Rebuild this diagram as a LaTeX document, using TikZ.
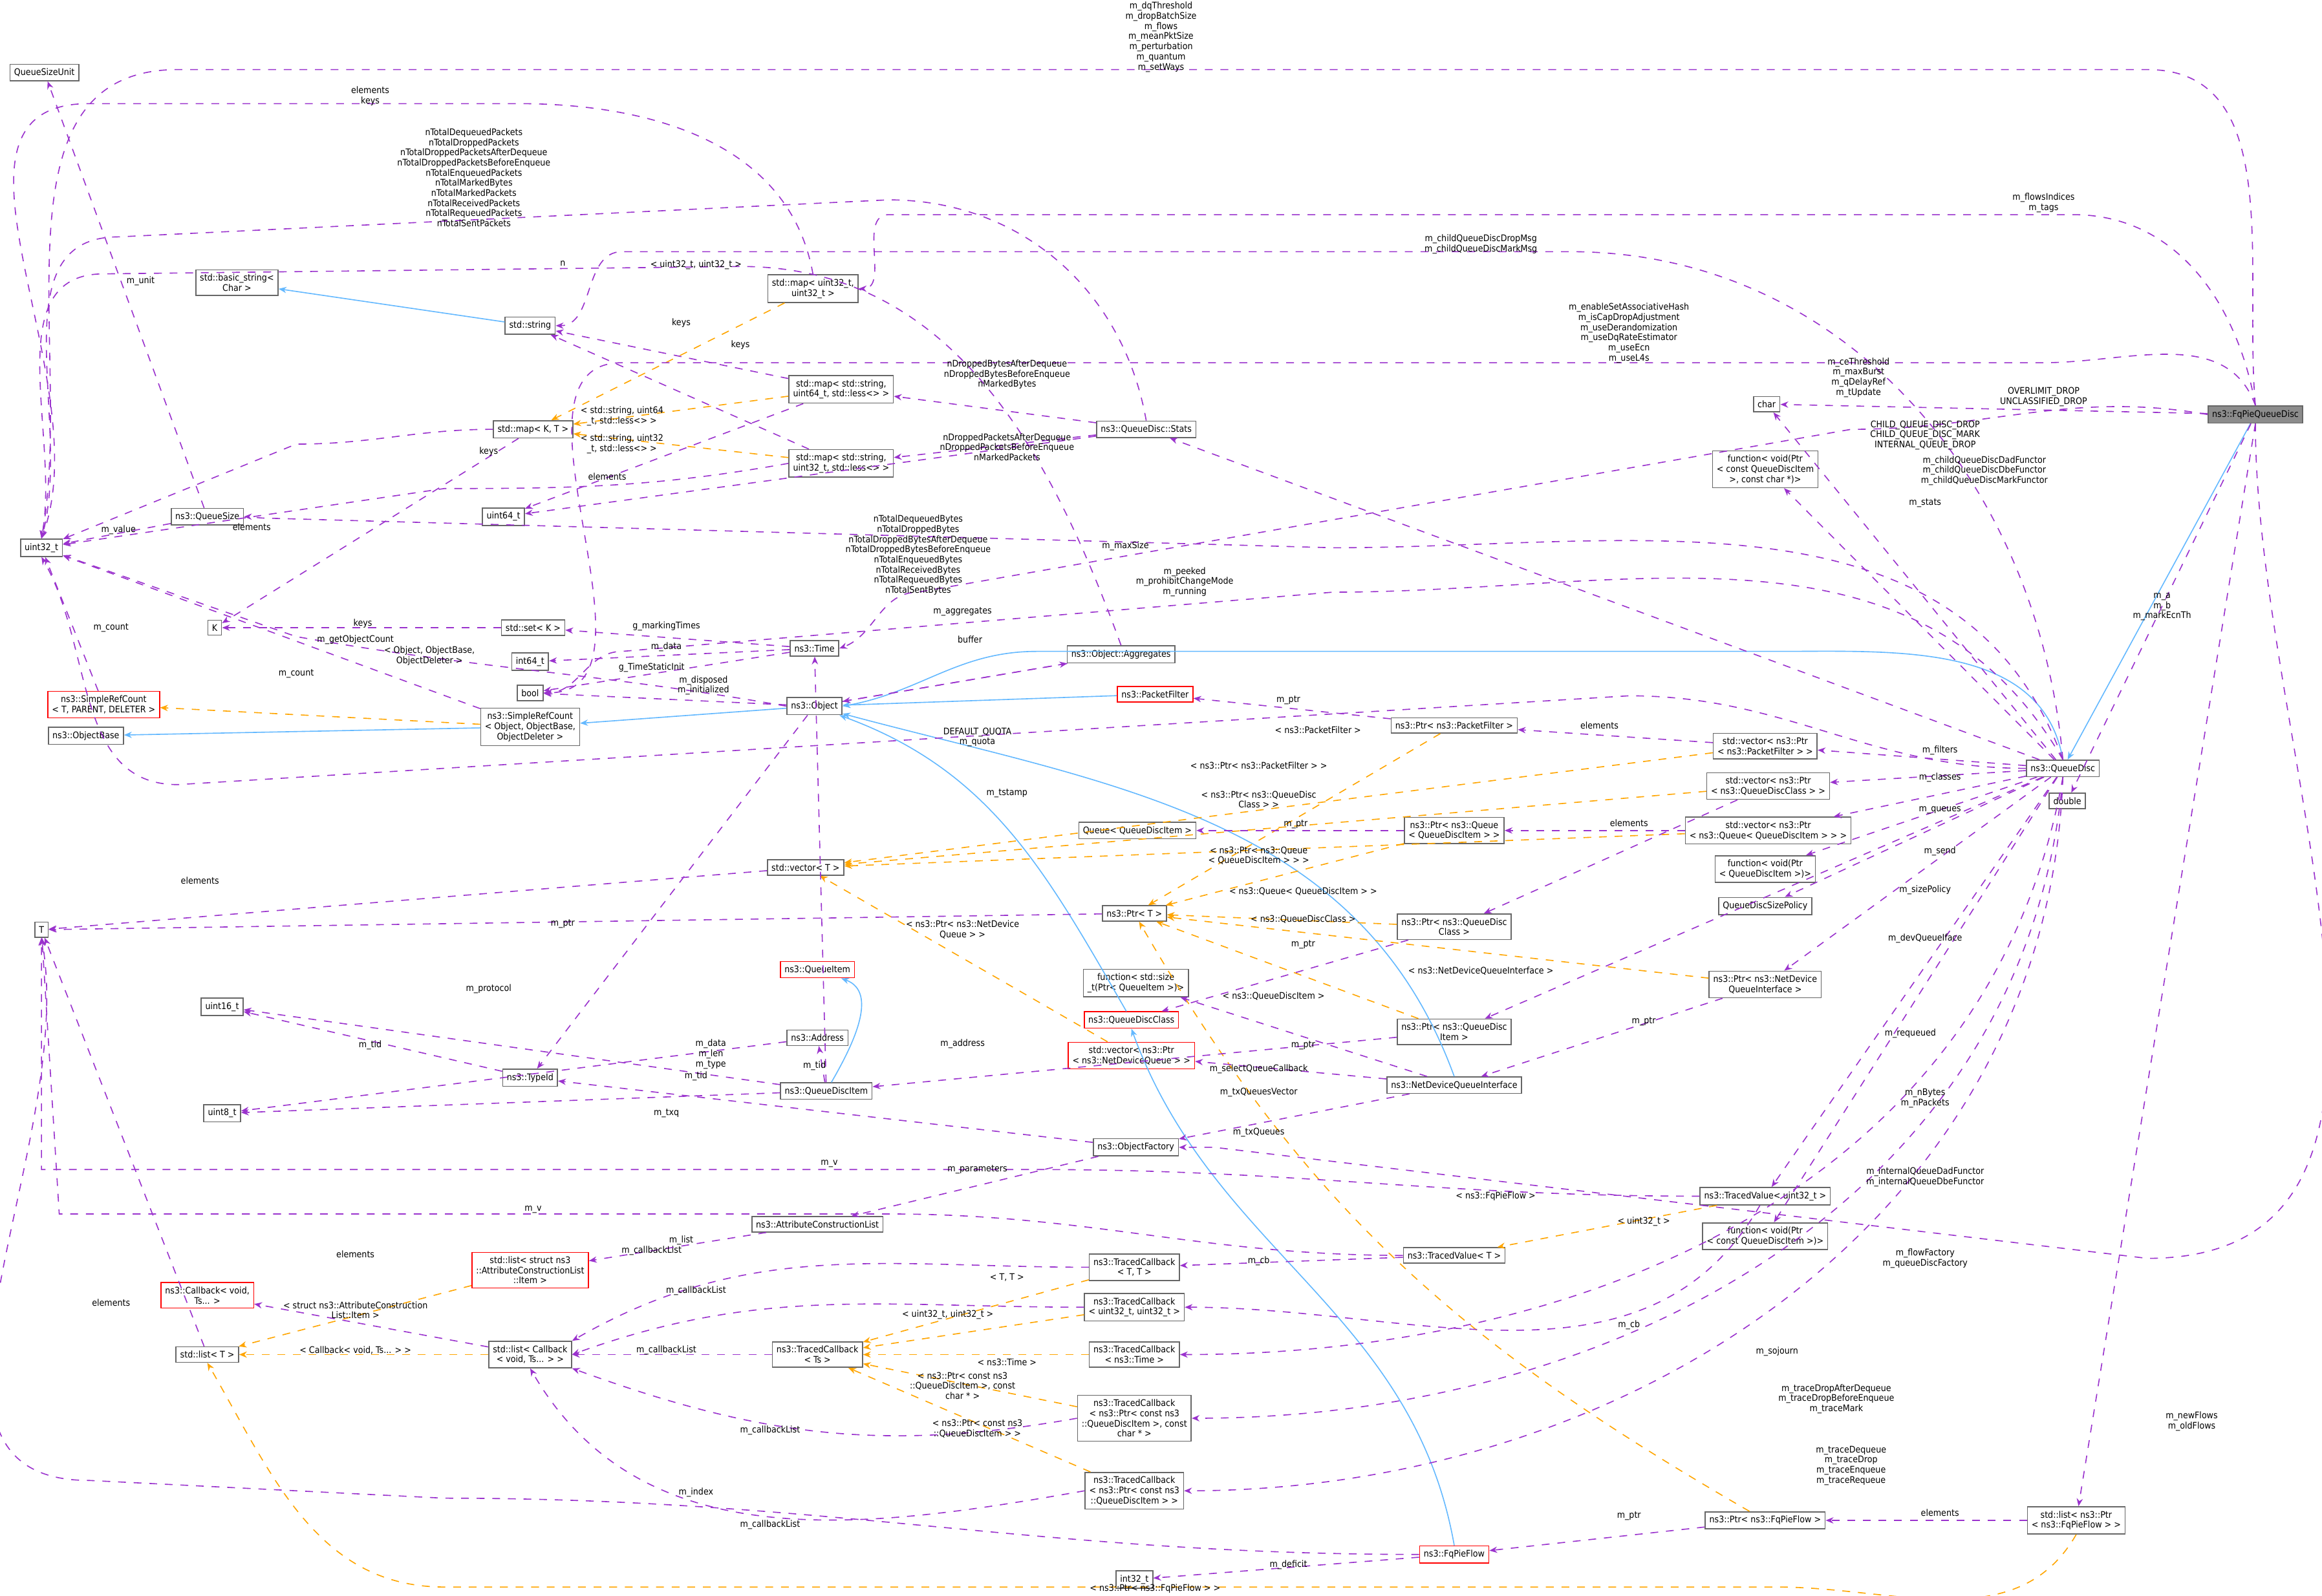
\documentclass[tikz,border=0pt]{standalone}
\usepackage{fontspec}
\setmainfont{DejaVu Sans Condensed}
\usetikzlibrary{arrows.meta}
\definecolor{member}{HTML}{9A32CD}
\definecolor{templ}{HTML}{FFA500}
\definecolor{inherit}{HTML}{63B8FF}
\begin{document}
\begin{tikzpicture}[x=0.02cm,y=-0.02cm,
  cls/.style={draw=black!60,fill=white,inner sep=1.6pt,font=\fontsize{3.5}{3.9}\selectfont,align=center},
  redcls/.style={cls,draw=red},
  main/.style={cls,fill=black!45},
  lbl/.style={font=\fontsize{3.5}{3.9}\selectfont,align=center,inner sep=0.5pt},
  mem/.style={member,dashed,-{Stealth[length=3pt,width=2.4pt]}},
  tpl/.style={templ,dashed,-{Stealth[length=3pt,width=2.4pt]}},
  inh/.style={inherit,-{Stealth[length=3pt,width=2.4pt]}}]
\useasboundingbox (0,0) rectangle (1568,1078);

% Classes, left column
\node[cls] (qsunit) at (30,49) {QueueSizeUnit};
\node[cls] (uint32) at (28,370) {uint32\_t};
\node[cls] (ttype) at (28,628) {T};
\node[cls] (kkey) at (145,424) {K};
\node[cls] (qsize) at (140,349) {ns3::QueueSize};
\node[redcls] (srcT) at (70,476) {ns3::SimpleRefCount\\< T, PARENT, DELETER >};
\node[cls] (objbase) at (58,497) {ns3::ObjectBase};
\node[cls] (uint16) at (150,680) {uint16\_t};
\node[cls] (uint8) at (150,752) {uint8\_t};
\node[redcls] (callback) at (140,875) {ns3::Callback< void,\\ Ts... >};
\node[cls] (listT) at (140,915) {std::list< T >};

% Second column
\node[cls] (bstring) at (160,191) {std::basic\_string<\\ Char >};
\node[cls] (string) at (358,220) {std::string};
\node[cls] (mapKT) at (360,290) {std::map< K, T >};
\node[cls] (uint64) at (340,349) {uint64\_t};
\node[cls] (setK) at (360,424) {std::set< K >};
\node[cls] (int64) at (358,447) {int64\_t};
\node[cls] (bool) at (358,468) {bool};
\node[cls] (srcObj) at (358,491) {ns3::SimpleRefCount\\< Object, ObjectBase,\\ ObjectDeleter >};
\node[cls] (typeid) at (358,728) {ns3::TypeId};
\node[redcls] (listItem) at (358,858) {std::list< struct ns3\\::AttributeConstructionList\\::Item >};
\node[cls] (listCb) at (358,915) {std::list< Callback\\< void, Ts... > >};

% Third column
\node[cls] (mapU32) at (549,195) {std::map< uint32\_t,\\ uint32\_t >};
\node[cls] (mapStr64) at (568,263) {std::map< std::string,\\ uint64\_t, std::less<> >};
\node[cls] (mapStr32) at (568,313) {std::map< std::string,\\ uint32\_t, std::less<> >};
\node[cls] (time) at (550,438) {ns3::Time};
\node[cls] (object) at (550,477) {ns3::Object};
\node[cls] (vecT) at (544,586) {std::vector< T >};
\node[redcls] (qitem) at (552,655) {ns3::QueueItem};
\node[cls] (address) at (552,701) {ns3::Address};
\node[cls] (qditem) at (558,737) {ns3::QueueDiscItem};
\node[cls] (acl) at (552,827) {ns3::AttributeConstructionList};
\node[cls] (tcTs) at (552,915) {ns3::TracedCallback\\< Ts >};

% Fourth column
\node[cls] (stats) at (774,290) {ns3::QueueDisc::Stats};
\node[cls] (aggr) at (757,442) {ns3::Object::Aggregates};
\node[redcls] (pfilter) at (780,469) {ns3::PacketFilter};
\node[cls] (queueQdi) at (768,561) {Queue< QueueDiscItem >};
\node[cls] (ptrT) at (766,617) {ns3::Ptr< T >};
\node[cls] (fnSize) at (767,664) {function< std::size\\\_t(Ptr< QueueItem >)>};
\node[redcls] (qdclass) at (764,689) {ns3::QueueDiscClass};
\node[redcls] (vecNdq) at (764,713) {std::vector< ns3::Ptr\\< ns3::NetDeviceQueue > >};
\node[cls] (objfac) at (767,775) {ns3::ObjectFactory};
\node[cls] (tcTT) at (766,856) {ns3::TracedCallback\\< T, T >};
\node[cls] (tcU32) at (766,883) {ns3::TracedCallback\\< uint32\_t, uint32\_t >};
\node[cls] (tcTime) at (766,915) {ns3::TracedCallback\\< ns3::Time >};
\node[cls] (tcChar) at (766,958) {ns3::TracedCallback\\< ns3::Ptr< const ns3\\::QueueDiscItem >, const\\ char * >};
\node[cls] (tcQdi) at (766,1007) {ns3::TracedCallback\\< ns3::Ptr< const ns3\\::QueueDiscItem > >};
\node[cls] (int32) at (766,1067) {int32\_t};

% Fifth column
\node[cls] (ptrPf) at (982,490) {ns3::Ptr< ns3::PacketFilter >};
\node[cls] (ptrQueue) at (982,561) {ns3::Ptr< ns3::Queue\\< QueueDiscItem > >};
\node[cls] (ptrQdc) at (982,626) {ns3::Ptr< ns3::QueueDisc\\Class >};
\node[cls] (ptrQdi) at (982,697) {ns3::Ptr< ns3::QueueDisc\\Item >};
\node[cls] (ndqi) at (982,733) {ns3::NetDeviceQueueInterface};
\node[cls] (tvT) at (982,848) {ns3::TracedValue< T >};
\node[redcls] (flow) at (982,1050) {ns3::FqPieFlow};

% Sixth column
\node[cls] (char) at (1193,273) {char};
\node[cls] (fnChar) at (1192,317) {function< void(Ptr\\< const QueueDiscItem\\ >, const char *)>};
\node[cls] (vecPf) at (1192,504) {std::vector< ns3::Ptr\\< ns3::PacketFilter > >};
\node[cls] (vecQdc) at (1194,531) {std::vector< ns3::Ptr\\< ns3::QueueDiscClass > >};
\node[cls] (vecQueue) at (1194,561) {std::vector< ns3::Ptr\\< ns3::Queue< QueueDiscItem > > >};
\node[cls] (fnQdi) at (1192,587) {function< void(Ptr\\< QueueDiscItem >)>};
\node[cls] (policy) at (1192,612) {QueueDiscSizePolicy};
\node[cls] (ptrNdqi) at (1192,665) {ns3::Ptr< ns3::NetDevice\\QueueInterface >};
\node[cls] (tvU32) at (1192,808) {ns3::TracedValue< uint32\_t >};
\node[cls] (fnCQdi) at (1192,835) {function< void(Ptr\\< const QueueDiscItem >)>};
\node[cls] (ptrFlow) at (1192,1027) {ns3::Ptr< ns3::FqPieFlow >};

% Right column
\node[cls] (qdisc) at (1393,519) {ns3::QueueDisc};
\node[cls] (double) at (1396,541) {double};
\node[cls] (listFlow) at (1402,1027) {std::list< ns3::Ptr\\< ns3::FqPieFlow > >};
\node[main] (fq) at (1523,280) {ns3::FqPieQueueDisc};

% Inheritance
\draw[inh] (fq) -- (qdisc);
\draw[inh] (qdisc.north) to[out=100,in=0] (1200,440) -- (700,440) to[out=180,in=10] (object.east);
\draw[inh] (pfilter) -- (object);
\draw[inh] (qdclass) to[out=120,in=-20] (object);
\draw[inh] (ndqi.north) to[out=110,in=-15] (object);
\draw[inh] (flow.north) to[out=100,in=-70] (qdclass.south);
\draw[inh] (qditem) to[out=60,in=-20] (qitem);
\draw[inh] (object) -- (srcObj);
\draw[inh] (srcObj) -- (objbase);
\draw[inh] (string) -- (bstring);

% Template instances
\draw[tpl] (srcObj) -- (srcT);
\draw[tpl] (mapU32) -- (mapKT);
\draw[tpl] (mapStr64) -- (mapKT);
\draw[tpl] (mapStr32) -- (mapKT);
\draw[tpl] (ptrPf) -- (ptrT);
\draw[tpl] (ptrQueue) -- (ptrT);
\draw[tpl] (ptrQdc) -- (ptrT);
\draw[tpl] (ptrQdi) -- (ptrT);
\draw[tpl] (ptrNdqi) -- (ptrT);
\draw[tpl] (ptrFlow) to[out=150,in=-60] (ptrT);
\draw[tpl] (vecPf) -- (vecT);
\draw[tpl] (vecQdc) -- (vecT);
\draw[tpl] (vecQueue) -- (vecT);
\draw[tpl] (vecNdq) -- (vecT);
\draw[tpl] (tvU32) -- (tvT);
\draw[tpl] (tcTT) -- (tcTs);
\draw[tpl] (tcU32) -- (tcTs);
\draw[tpl] (tcTime) -- (tcTs);
\draw[tpl] (tcChar) -- (tcTs);
\draw[tpl] (tcQdi) -- (tcTs);
\draw[tpl] (listItem) -- (listT);
\draw[tpl] (listCb) -- (listT);
\draw[tpl] (listFlow.south) to[out=-120,in=0] (1200,1072) -- (300,1072) to[out=180,in=-60] (listT.south);

% Members of FqPieQueueDisc
\draw[mem] (fq.north) to[out=95,in=0] (1450,47) -- (120,47) to[out=180,in=80] (uint32.north);
\draw[mem] (fq.north) to[out=100,in=0] (1400,145) -- (600,145) to[out=180,in=0] (mapU32.east);
\draw[mem] (fq.north) to[out=110,in=0] (1380,245) -- (420,245) to[out=180,in=0] (bool.east);
\draw[mem] (fq.west) to[out=170,in=0] (1250,290) -- (620,400) to[out=180,in=20] (time.east);
\draw[mem] (fq) -- (char);
\draw[mem] (fq) -- (double);
\draw[mem] (fq.south) to[out=-90,in=0] (1450,850) -- (820,775) to[out=180,in=0] (objfac.east);
\draw[mem] (fq.south) -- (listFlow);

% Members of QueueDisc
\draw[mem] (qdisc.north) to[out=95,in=0] (1060,170) -- (420,170) to[out=180,in=0] (string.east);
\draw[mem] (qdisc) -- (char);
\draw[mem] (qdisc) -- (fnChar);
\draw[mem] (qdisc) -- (stats);
\draw[mem] (qdisc.north) to[out=110,in=0] (900,370) -- (180,350) to[out=180,in=0] (qsize.east);
\draw[mem] (qdisc.north) to[out=120,in=0] (900,400) -- (420,440) to[out=180,in=0] (bool.east);
\draw[mem] (qdisc) -- (vecPf);
\draw[mem] (qdisc) -- (vecQdc);
\draw[mem] (qdisc) -- (vecQueue);
\draw[mem] (qdisc) -- (fnQdi);
\draw[mem] (qdisc) -- (policy);
\draw[mem] (qdisc) -- (ptrNdqi);
\draw[mem] (qdisc) -- (ptrQdi);
\draw[mem] (qdisc) -- (tvU32);
\draw[mem] (qdisc) -- (fnCQdi);
\draw[mem] (qdisc.south) to[out=-100,in=0] (tcTime.east);
\draw[mem] (qdisc.south) to[out=-95,in=0] (tcChar.east);
\draw[mem] (qdisc.south) to[out=-92,in=0] (tcQdi.east);
\draw[mem] (qdisc.west) to[out=180,in=0] (1100,470) -- (120,530) to[out=180,in=-60] (uint32.south);

% Other members
\draw[mem] (mapU32.north) to[out=100,in=0] (350,70) -- (60,70) to[out=180,in=70] (uint32.north);
\draw[mem] (stats.north) to[out=100,in=0] (600,135) -- (80,160) to[out=180,in=75] (uint32.north);
\draw[mem] (stats) -- (mapStr64);
\draw[mem] (stats) -- (mapStr32);
\draw[mem] (stats) -- (uint64);
\draw[mem] (aggr.north) to[out=110,in=0] (500,180) -- (70,185) to[out=180,in=80] (uint32.north);
\draw[mem] (aggr) -- (object);
\draw[mem] (object) -- (aggr);
\draw[mem] (object) -- (bool);
\draw[mem] (object.west) to[out=170,in=-10] (200,430) -- (uint32);
\draw[mem] (object) -- (typeid);
\draw[mem] (time) -- (setK);
\draw[mem] (time) -- (int64);
\draw[mem] (time) -- (bool);
\draw[mem] (setK) -- (kkey);
\draw[mem] (mapKT) -- (kkey);
\draw[mem] (mapKT.west) to[out=180,in=0] (200,300) -- (uint32);
\draw[mem] (mapStr64) -- (string);
\draw[mem] (mapStr32) -- (string);
\draw[mem] (mapStr64) -- (uint64);
\draw[mem] (mapStr32.west) to[out=190,in=0] (300,330) -- (uint32);
\draw[mem] (qsize) -- (uint32);
\draw[mem] (qsize) -- (qsunit);
\draw[mem] (srcT) -- (uint32);
\draw[mem] (srcObj) -- (uint32);
\draw[mem] (vecT) -- (ttype);
\draw[mem] (ptrT) -- (ttype);
\draw[mem] (listT) -- (ttype);
\draw[mem] (ptrPf) -- (pfilter);
\draw[mem] (vecPf) -- (ptrPf);
\draw[mem] (vecQdc) -- (ptrQdc);
\draw[mem] (vecQueue) -- (ptrQueue);
\draw[mem] (ptrQueue) -- (queueQdi);
\draw[mem] (ptrQdc) -- (qdclass);
\draw[mem] (ptrQdi) -- (qditem);
\draw[mem] (ptrNdqi) -- (ndqi);
\draw[mem] (ndqi) -- (fnSize);
\draw[mem] (ndqi) -- (vecNdq);
\draw[mem] (ndqi) -- (objfac);
\draw[mem] (qditem) -- (time);
\draw[mem] (qditem) -- (address);
\draw[mem] (qditem) -- (uint16);
\draw[mem] (qditem) -- (uint8);
\draw[mem] (address) -- (uint8);
\draw[mem] (typeid) -- (uint16);
\draw[mem] (objfac) -- (typeid);
\draw[mem] (objfac) -- (acl);
\draw[mem] (acl) -- (listItem);
\draw[mem] (listCb) -- (callback);
\draw[mem] (tvU32.west) to[out=180,in=0] (700,790) -- (28,790) -- (ttype);
\draw[mem] (tvT.west) to[out=180,in=0] (600,820) -- (40,820) -- (ttype);
\draw[mem] (tvT) -- (tcTT);
\draw[mem] (tvU32) to[out=-120,in=0] (tcU32.east);
\draw[mem] (tcTs) -- (listCb);
\draw[mem] (tcTT.west) to[out=180,in=30] (listCb.north east);
\draw[mem] (tcU32.west) to[out=180,in=20] (listCb.east);
\draw[mem] (tcChar.west) to[out=190,in=-20] (listCb.south east);
\draw[mem] (tcQdi.west) to[out=190,in=-60] (listCb.south);
\draw[mem] (listFlow) -- (ptrFlow);
\draw[mem] (ptrFlow) -- (flow);
\draw[mem] (flow) -- (int32);
\draw[mem] (flow.west) to[out=180,in=0] (300,1012) -- (60,1000) to[out=180,in=-80] (ttype.south);

% Edge labels
\node[lbl] at (784,25) {m\_dqThreshold\\m\_dropBatchSize\\m\_flows\\m\_meanPktSize\\m\_perturbation\\m\_quantum\\m\_setWays};
\node[lbl] at (1380,137) {m\_flowsIndices\\m\_tags};
\node[lbl] at (250,65) {elements\\keys};
\node[lbl] at (320,120) {nTotalDequeuedPackets\\nTotalDroppedPackets\\nTotalDroppedPacketsAfterDequeue\\nTotalDroppedPacketsBeforeEnqueue\\nTotalEnqueuedPackets\\nTotalMarkedBytes\\nTotalMarkedPackets\\nTotalReceivedPackets\\nTotalRequeuedPackets\\nTotalSentPackets};
\node[lbl] at (1000,165) {m\_childQueueDiscDropMsg\\m\_childQueueDiscMarkMsg};
\node[lbl] at (1100,225) {m\_enableSetAssociativeHash\\m\_isCapDropAdjustment\\m\_useDerandomization\\m\_useDqRateEstimator\\m\_useEcn\\m\_useL4s};
\node[lbl] at (1255,255) {m\_ceThreshold\\m\_maxBurst\\m\_qDelayRef\\m\_tUpdate};
\node[lbl] at (1380,268) {OVERLIMIT\_DROP\\UNCLASSIFIED\_DROP};
\node[lbl] at (1300,294) {CHILD\_QUEUE\_DISC\_DROP\\CHILD\_QUEUE\_DISC\_MARK\\INTERNAL\_QUEUE\_DROP};
\node[lbl] at (1340,318) {m\_childQueueDiscDadFunctor\\m\_childQueueDiscDbeFunctor\\m\_childQueueDiscMarkFunctor};
\node[lbl] at (1300,340) {m\_stats};
\node[lbl] at (760,369) {m\_maxSize};
\node[lbl] at (800,393) {m\_peeked\\m\_prohibitChangeMode\\m\_running};
\node[lbl] at (1460,410) {m\_a\\m\_b\\m\_markEcnTh};
\node[lbl] at (1310,507) {m\_filters};
\node[lbl] at (1310,525) {m\_classes};
\node[lbl] at (1310,547) {m\_queues};
\node[lbl] at (1310,575) {m\_send};
\node[lbl] at (1300,601) {m\_sizePolicy};
\node[lbl] at (1300,634) {m\_devQueueIface};
\node[lbl] at (1290,698) {m\_requeued};
\node[lbl] at (1300,742) {m\_nBytes\\m\_nPackets};
\node[lbl] at (1300,795) {m\_internalQueueDadFunctor\\m\_internalQueueDbeFunctor};
\node[lbl] at (1300,850) {m\_flowFactory\\m\_queueDiscFactory};
\node[lbl] at (1200,913) {m\_sojourn};
\node[lbl] at (1240,945) {m\_traceDropAfterDequeue\\m\_traceDropBeforeEnqueue\\m\_traceMark};
\node[lbl] at (1250,990) {m\_traceDequeue\\m\_traceDrop\\m\_traceEnqueue\\m\_traceRequeue};
\node[lbl] at (1480,960) {m\_newFlows\\m\_oldFlows};
\node[lbl] at (1310,1022) {elements};
\node[lbl] at (1100,1024) {m\_ptr};
\node[lbl] at (870,1057) {m\_deficit};
\node[lbl] at (470,1008) {m\_index};
\node[lbl] at (780,1073) {< ns3::Ptr< ns3::FqPieFlow > >};
\node[lbl] at (1110,825) {< uint32\_t >};
\node[lbl] at (1100,895) {m\_cb};
\node[lbl] at (850,852) {m\_cb};
\node[lbl] at (560,786) {m\_v};
\node[lbl] at (360,817) {m\_v};
\node[lbl] at (680,863) {< T, T >};
\node[lbl] at (640,888) {< uint32\_t, uint32\_t >};
\node[lbl] at (680,920) {< ns3::Time >};
\node[lbl] at (650,936) {< ns3::Ptr< const ns3\\::QueueDiscItem >, const\\ char * >};
\node[lbl] at (660,965) {< ns3::Ptr< const ns3\\::QueueDiscItem > >};
\node[lbl] at (450,912) {m\_callbackList};
\node[lbl] at (440,845) {m\_callbackList};
\node[lbl] at (470,872) {m\_callbackList};
\node[lbl] at (520,966) {m\_callbackList};
\node[lbl] at (520,1030) {m\_callbackList};
\node[lbl] at (240,885) {< struct ns3::AttributeConstruction\\List::Item >};
\node[lbl] at (240,912) {< Callback< void, Ts... > >};
\node[lbl] at (240,847) {elements};
\node[lbl] at (75,880) {elements};
\node[lbl] at (460,838) {m\_list};
\node[lbl] at (660,790) {m\_parameters};
\node[lbl] at (550,720) {m\_tid};
\node[lbl] at (470,727) {m\_tid};
\node[lbl] at (250,706) {m\_tid};
\node[lbl] at (330,668) {m\_protocol};
\node[lbl] at (450,752) {m\_txq};
\node[lbl] at (480,712) {m\_data\\m\_len\\m\_type};
\node[lbl] at (650,705) {m\_address};
\node[lbl] at (680,536) {m\_tstamp};
\node[lbl] at (850,722) {m\_selectQueueCallback};
\node[lbl] at (850,738) {m\_txQueuesVector};
\node[lbl] at (850,765) {m\_txQueues};
\node[lbl] at (1110,690) {m\_ptr};
\node[lbl] at (880,706) {m\_ptr};
\node[lbl] at (860,673) {< ns3::QueueDiscItem >};
\node[lbl] at (1000,656) {< ns3::NetDeviceQueueInterface >};
\node[lbl] at (880,638) {m\_ptr};
\node[lbl] at (880,621) {< ns3::QueueDiscClass >};
\node[lbl] at (880,602) {< ns3::Queue< QueueDiscItem > >};
\node[lbl] at (875,557) {m\_ptr};
\node[lbl] at (1100,556) {elements};
\node[lbl] at (850,578) {< ns3::Ptr< ns3::Queue\\< QueueDiscItem > > >};
\node[lbl] at (850,540) {< ns3::Ptr< ns3::QueueDisc\\Class > >};
\node[lbl] at (850,517) {< ns3::Ptr< ns3::PacketFilter > >};
\node[lbl] at (890,493) {< ns3::PacketFilter >};
\node[lbl] at (1080,490) {elements};
\node[lbl] at (870,473) {m\_ptr};
\node[lbl] at (1010,808) {< ns3::FqPieFlow >};
\node[lbl] at (650,628) {< ns3::Ptr< ns3::NetDevice\\Queue > >};
\node[lbl] at (380,624) {m\_ptr};
\node[lbl] at (135,595) {elements};
\node[lbl] at (660,498) {DEFAULT\_QUOTA\\m\_quota};
\node[lbl] at (650,413) {m\_aggregates};
\node[lbl] at (655,432) {buffer};
\node[lbl] at (475,463) {m\_disposed\\m\_initialized};
\node[lbl] at (240,432) {m\_getObjectCount};
\node[lbl] at (380,178) {n};
\node[lbl] at (450,423) {g\_markingTimes};
\node[lbl] at (450,437) {m\_data};
\node[lbl] at (440,451) {g\_TimeStaticInit};
\node[lbl] at (245,421) {keys};
\node[lbl] at (330,305) {keys};
\node[lbl] at (170,356) {elements};
\node[lbl] at (410,322) {elements};
\node[lbl] at (420,281) {< std::string, uint64\\\_t, std::less<> >};
\node[lbl] at (420,300) {< std::string, uint32\\\_t, std::less<> >};
\node[lbl] at (470,179) {< uint32\_t, uint32\_t >};
\node[lbl] at (460,218) {keys};
\node[lbl] at (500,233) {keys};
\node[lbl] at (680,253) {nDroppedBytesAfterDequeue\\nDroppedBytesBeforeEnqueue\\nMarkedBytes};
\node[lbl] at (680,302) {nDroppedPacketsAfterDequeue\\nDroppedPacketsBeforeEnqueue\\nMarkedPackets};
\node[lbl] at (620,375) {nTotalDequeuedBytes\\nTotalDroppedBytes\\nTotalDroppedBytesAfterDequeue\\nTotalDroppedBytesBeforeEnqueue\\nTotalEnqueuedBytes\\nTotalReceivedBytes\\nTotalRequeuedBytes\\nTotalSentBytes};
\node[lbl] at (80,358) {m\_value};
\node[lbl] at (95,190) {m\_unit};
\node[lbl] at (75,424) {m\_count};
\node[lbl] at (200,455) {m\_count};
\node[lbl] at (290,443) {< Object, ObjectBase,\\ ObjectDeleter >};
\end{tikzpicture}
\end{document}
